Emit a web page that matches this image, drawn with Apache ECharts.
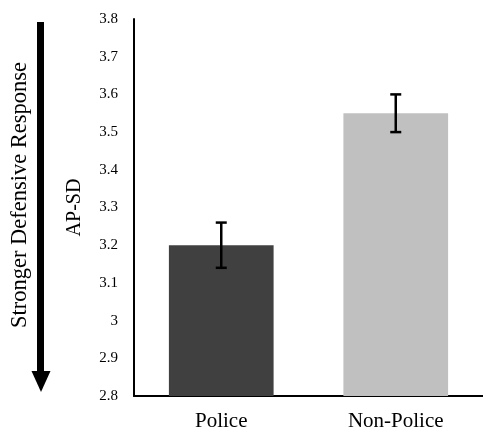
<!DOCTYPE html>
<html>
<head>
<meta charset="utf-8">
<script src="https://cdn.jsdelivr.net/npm/echarts@6/dist/echarts.min.js"></script>
<style>html,body{margin:0;padding:0;background:#fff;}#c{width:483px;height:432px;}</style>
</head>
<body>
<div id="c"></div>
<script>
var categories = ['Police', 'Non-Police'];
var means = [3.2, 3.55];
var errLow = [3.14, 3.5];
var errHigh = [3.26, 3.6];
var barColors = ['#404040', '#c0c0c0'];
var yTicks = { min: 2.8, max: 3.8, interval: 0.1 };

var FONT = '"Liberation Serif", "Times New Roman", serif';
var chart = echarts.init(document.getElementById('c'));
chart.setOption({
  animation: false,
  backgroundColor: '#fff',
  grid: { left: 134, top: 19, width: 355, height: 377.5 },
  xAxis: {
    type: 'category',
    data: categories,
    axisLine: { lineStyle: { color: '#000', width: 2 } },
    axisTick: { show: false },
    axisLabel: { color: '#000', fontFamily: FONT, fontSize: 21, margin: 15 }
  },
  yAxis: {
    type: 'value',
    min: yTicks.min, max: yTicks.max, interval: yTicks.interval,
    name: 'AP-SD',
    nameLocation: 'middle',
    nameRotate: 90,
    nameGap: 49,
    nameTextStyle: { color: '#000', fontFamily: FONT, fontSize: 20 },
    axisLine: { show: true, lineStyle: { color: '#000', width: 2 } },
    axisTick: { show: false },
    splitLine: { show: false },
    axisLabel: {
      color: '#000', fontFamily: FONT, fontSize: 15, margin: 16,
      formatter: function (v) { return String(+v.toFixed(1)); }
    }
  },
  series: [
    {
      type: 'bar',
      barWidth: '60%',
      data: means.map(function (v, i) {
        return { value: v, itemStyle: { color: barColors[i] } };
      })
    },
    {
      type: 'custom',
      z: 10,
      data: errLow.map(function (lo, i) { return [i, lo, errHigh[i]]; }),
      renderItem: function (params, api) {
        var x = api.value(0);
        var lo = api.coord([x, api.value(1)]);
        var hi = api.coord([x, api.value(2)]);
        var hw = 5.5;
        var st = { stroke: '#000', lineWidth: 2.5 };
        return {
          type: 'group',
          children: [
            { type: 'line', shape: { x1: lo[0], y1: lo[1], x2: hi[0], y2: hi[1] }, style: st },
            { type: 'line', shape: { x1: lo[0] - hw, y1: lo[1], x2: lo[0] + hw, y2: lo[1] }, style: st },
            { type: 'line', shape: { x1: hi[0] - hw, y1: hi[1], x2: hi[0] + hw, y2: hi[1] }, style: st }
          ]
        };
      }
    }
  ],
  graphic: [
    { type: 'rect', shape: { x: 37, y: 22, width: 7, height: 352 }, style: { fill: '#000' } },
    { type: 'polygon', shape: { points: [[31.5, 371], [50.5, 371], [41, 392]] }, style: { fill: '#000' } },
    {
      type: 'text', x: 20, y: 195, rotation: Math.PI / 2,
      style: { text: 'Stronger Defensive Response', fill: '#000', font: '22.5px ' + FONT, align: 'center', verticalAlign: 'middle' }
    }
  ]
});
</script>
</body>
</html>
